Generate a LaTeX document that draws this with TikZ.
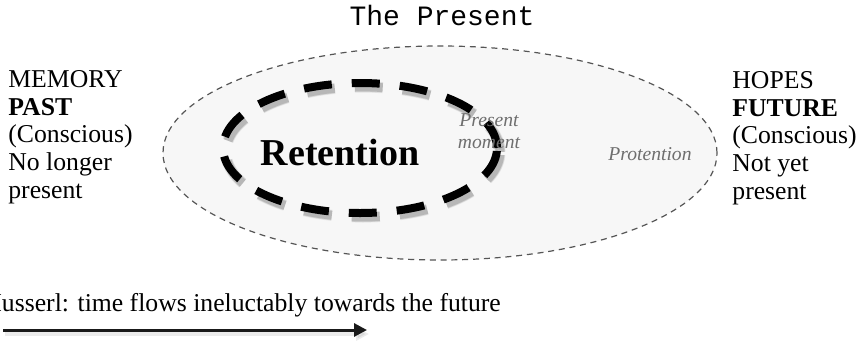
\documentclass[tikz,border=0pt]{standalone}
\usepackage{fontspec}
\setmainfont{Liberation Serif}
\setmonofont{Liberation Mono}
\usetikzlibrary{arrows.meta,shapes.geometric}
\definecolor{mist}{RGB}{247,247,247}
\definecolor{rim}{RGB}{85,85,85}
\definecolor{faint}{RGB}{110,110,110}

\begin{document}
\begin{tikzpicture}[x=0.5pt, y=-0.5pt, >={Triangle[length=6.5pt, width=6.5pt]},
  field/.style={ellipse, draw=rim, fill=mist, line width=0.6pt,
    dash pattern=on 3pt off 2.4pt, minimum width=277pt, minimum height=107pt, inner sep=0pt},
  held/.style={ellipse, line width=4pt, dash pattern=on 14pt off 10pt,
    minimum width=137pt, minimum height=65pt, inner sep=0pt},
  side/.style={font=\fontsize{12.85}{13.85}\selectfont, align=left, anchor=north west, inner sep=0pt},
  soft/.style={font=\fontsize{9.8}{11}\selectfont\itshape, text=faint, inner sep=0pt}]
\useasboundingbox (0,0) rectangle (862,343);
% the present as a whole
\node[field] (present) at (440,153) {};
\node[font=\fontsize{14}{16}\selectfont\ttfamily, anchor=base, inner sep=0pt] (title) at (442,25) {The Present};
% retention, with its shadow
\foreach \w/\o in {5.6/0.06, 5.0/0.09, 4.4/0.13}
  \node[held, draw=black, draw opacity=\o, line width=\w pt] at (363,152) {};
\node[held, draw=black] (retain) at (360,148) {};
\node[font=\fontsize{19}{21}\selectfont\bfseries, anchor=base, inner sep=0pt] (rlabel) at (340,165) {Retention};
\node[soft, align=center, anchor=base] (moment) at (489,148) {Present\\moment};
\node[soft, anchor=base] (protent) at (650,160) {Protention};
% past and future
\node[side] (past) at (8,70) {MEMORY\\\textbf{PAST}\\(Conscious)\\No longer\\present};
\node[side] (future) at (732,71) {HOPES\\\textbf{FUTURE}\\(Conscious)\\Not yet\\present};
% time arrow
\node[font=\fontsize{12.85}{14}\selectfont, anchor=base west, inner sep=0pt] (husserl) at (-17,311) {Husserl: time flows ineluctably towards the future};
\coordinate (flowA) at (3,330);
\coordinate (flowB) at (367,330);
\draw[->, line width=2.4pt, black, opacity=0.08] ([xshift=1pt, yshift=-2pt]flowA) -- ([xshift=1pt, yshift=-2pt]flowB);
\draw[->, line width=1.5pt, black!90] (flowA) -- (flowB);
\end{tikzpicture}
\end{document}
